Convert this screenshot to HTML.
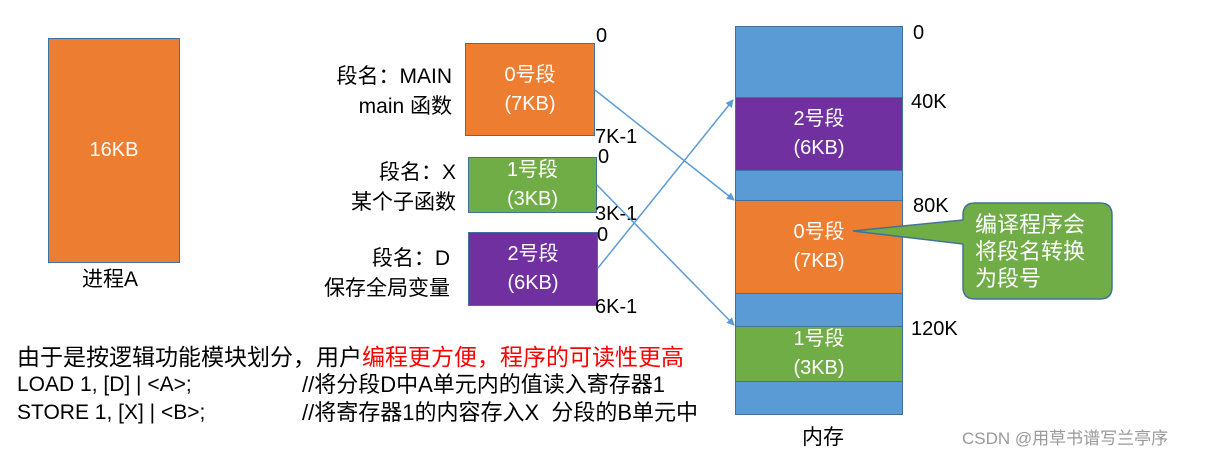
<!DOCTYPE html>
<html><head><meta charset="utf-8"><style>
body{margin:0;width:1209px;height:457px;background:#fff;position:relative;overflow:hidden;font-family:"Liberation Sans","Noto Sans CJK SC",sans-serif;color:#000}
div{position:absolute;box-sizing:border-box}
.b{border:1.5px solid #41719c;color:#fff;text-align:center;display:flex;flex-direction:column;justify-content:center;font-size:20px;line-height:29px}
.t{font-size:20px;white-space:nowrap;line-height:22px}
.r{text-align:right}
</style></head><body>
<div class="b" style="left:48px;top:38px;width:132px;height:225px;background:#ed7d31">16KB</div>
<div class="t" style="left:82px;top:269px;font-size:21px">进程A</div>

<div class="t r" style="left:290px;top:62px;width:162px;line-height:30px;font-size:21px">段名：MAIN<br>main 函数</div>
<div class="t r" style="left:290px;top:158px;width:166px;line-height:30px;font-size:21px">段名：X<br>某个子函数</div>
<div class="t r" style="left:290px;top:244px;width:160px;line-height:30px;font-size:21px">段名：D<br>保存全局变量</div>

<div class="b" style="left:465px;top:43px;width:130px;height:93px;background:#ed7d31">0号段<br>(7KB)</div>
<div class="b" style="left:468px;top:157px;width:129px;height:56px;background:#70ad47">1号段<br>(3KB)</div>
<div class="b" style="left:468px;top:232px;width:130px;height:74px;background:#7030a0">2号段<br>(6KB)</div>

<div class="t" style="left:596px;top:25px">0</div>
<div class="t" style="left:595px;top:126px">7K-1</div>
<div class="t" style="left:598px;top:146px">0</div>
<div class="t" style="left:595px;top:203px">3K-1</div>
<div class="t" style="left:597px;top:224px">0</div>
<div class="t" style="left:595px;top:296px">6K-1</div>

<div class="b" style="left:735px;top:26px;width:168px;height:389px;background:#5b9bd5"></div>
<div class="b" style="left:735px;top:97px;width:168px;height:74px;background:#7030a0">2号段<br>(6KB)</div>
<div class="b" style="left:735px;top:200px;width:168px;height:94px;background:#ed7d31">0号段<br>(7KB)</div>
<div class="b" style="left:735px;top:326px;width:168px;height:56px;background:#70ad47">1号段<br>(3KB)</div>

<div class="t" style="left:913px;top:22px">0</div>
<div class="t" style="left:911px;top:91px">40K</div>
<div class="t" style="left:913px;top:195px">80K</div>
<div class="t" style="left:911px;top:318px">120K</div>
<div class="t" style="left:802px;top:427px;font-size:21px">内存</div>

<svg style="position:absolute;left:0;top:0" width="1209" height="457">
<defs><marker id="a" markerWidth="8" markerHeight="8" refX="7" refY="4" orient="auto" markerUnits="userSpaceOnUse"><path d="M0,0L8,4L0,8z" fill="#5b9bd5"/></marker></defs>
<g stroke="#5b9bd5" stroke-width="1.5" fill="none">
<line x1="595" y1="90" x2="734" y2="200" marker-end="url(#a)"/>
<line x1="597" y1="185" x2="734" y2="325" marker-end="url(#a)"/>
<line x1="598" y1="268" x2="733" y2="100" marker-end="url(#a)"/>
</g>
<path d="M975,203 H1100 Q1112,203 1112,215 V287 Q1112,299 1100,299 H975 Q963,299 963,287 V244 L853,231 L963,220 V215 Q963,203 975,203Z" fill="#70ad47" stroke="#41719c" stroke-width="1.5"/>
</svg>
<div class="t" style="left:975px;top:211px;color:#fff;line-height:27px;font-size:22px">编译程序会<br>将段名转换<br>为段号</div>

<div class="t" style="left:17px;top:346px;font-size:23px">由于是按逻辑功能模块划分，用户<span style="color:#ff0000">编程更方便，程序的可读性更高</span></div>
<div class="t" style="left:17px;top:374px;font-size:21px">LOAD 1, [D] | &lt;A&gt;;</div>
<div class="t" style="left:302px;top:374px;font-size:22px">//将分段D中A单元内的值读入寄存器1</div>
<div class="t" style="left:17px;top:402px;font-size:21px">STORE 1, [X] | &lt;B&gt;;</div>
<div class="t" style="left:302px;top:402px;font-size:22px">//将寄存器1的内容存入X&nbsp;&nbsp;分段的B单元中</div>
<div class="t" style="left:962px;top:428px;color:#999;font-size:17px">CSDN @用草书谱写兰亭序</div>
</body></html>
